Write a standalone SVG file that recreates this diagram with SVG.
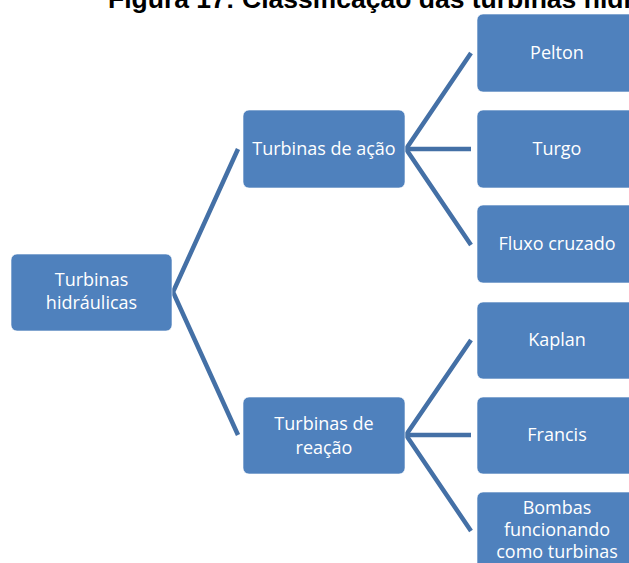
<svg xmlns="http://www.w3.org/2000/svg" width="629" height="563" viewBox="0 0 629 563">
  <style>
    .title { font-family: "Liberation Sans", Arial, sans-serif; font-weight: bold; font-size: 26.5px; fill: #000; }
    .box { fill: #4F81BD; stroke: #FFFFFF; stroke-opacity: 0.6; stroke-width: 1; }
    .label { font-family: "Open Sans", "Noto Sans", sans-serif; font-size: 18px; fill: #FFFFFF; text-anchor: middle; }
    .link { stroke: #4470A6; stroke-width: 4.5; fill: none; stroke-linecap: butt; stroke-linejoin: miter; }
  </style>
  <rect width="629" height="563" fill="#FFFFFF"/>

  <text class="title" x="108" y="8">Figura 17: Classificação das turbinas hidráulicas</text>

  <g id="connectors">
    <polyline class="link" points="238,149 173,292 238,435"/>
    <polyline class="link" points="471,53 406,149 471,245"/>
    <line class="link" x1="406" y1="149" x2="471" y2="149"/>
    <polyline class="link" points="471,340 406,435 471,531"/>
    <line class="link" x1="406" y1="435" x2="471" y2="435"/>
  </g>

  <g id="root">
    <rect class="box" x="11" y="254" width="161" height="77" rx="6"/>
    <text class="label" x="91.5" y="286">Turbinas</text>
    <text class="label" x="91.5" y="309">hidráulicas</text>
  </g>

  <g id="acao">
    <rect class="box" x="243" y="110" width="162" height="78" rx="6"/>
    <text class="label" x="324" y="155">Turbinas de ação</text>
  </g>

  <g id="reacao">
    <rect class="box" x="243" y="397" width="162" height="77" rx="6"/>
    <text class="label" x="324" y="430">Turbinas de</text>
    <text class="label" x="324" y="454">reação</text>
  </g>

  <g id="pelton">
    <rect class="box" x="477" y="14" width="162" height="78" rx="6"/>
    <text class="label" x="557" y="59">Pelton</text>
  </g>

  <g id="turgo">
    <rect class="box" x="477" y="110" width="162" height="78" rx="6"/>
    <text class="label" x="557" y="155">Turgo</text>
  </g>

  <g id="fluxo-cruzado">
    <rect class="box" x="477" y="205" width="162" height="78" rx="6"/>
    <text class="label" x="557" y="250">Fluxo cruzado</text>
  </g>

  <g id="kaplan">
    <rect class="box" x="477" y="302" width="162" height="77" rx="6"/>
    <text class="label" x="557" y="346">Kaplan</text>
  </g>

  <g id="francis">
    <rect class="box" x="477" y="397" width="162" height="77" rx="6"/>
    <text class="label" x="557" y="441">Francis</text>
  </g>

  <g id="bombas">
    <rect class="box" x="477" y="492" width="162" height="80" rx="6"/>
    <text class="label" x="557" y="514">Bombas</text>
    <text class="label" x="557" y="536">funcionando</text>
    <text class="label" x="557" y="558">como turbinas</text>
  </g>
</svg>
